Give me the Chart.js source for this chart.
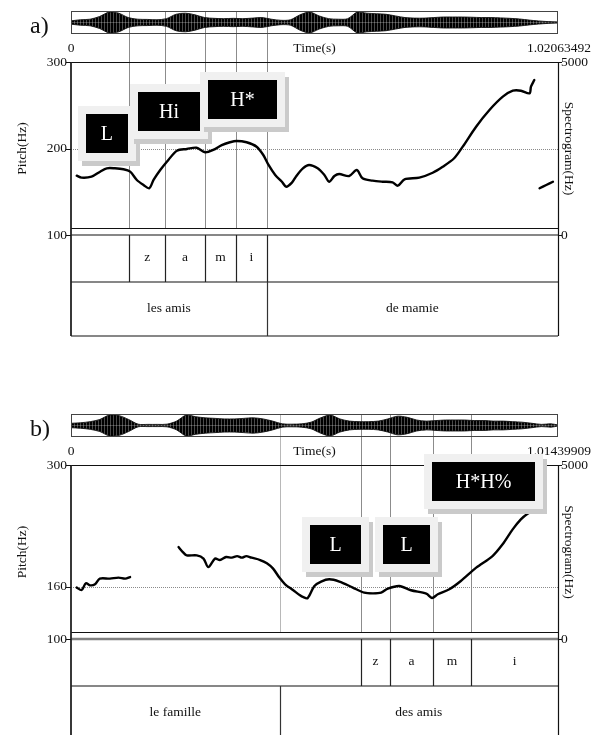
<!DOCTYPE html>
<html>
<head>
<meta charset="utf-8">
<script src="https://cdn.jsdelivr.net/npm/chart.js@4.4.1/dist/chart.umd.min.js"></script>
<style>
  html, body { margin: 0; padding: 0; background: #fff; }
  #page { position: relative; width: 596px; height: 735px; overflow: hidden; }
  canvas { position: absolute; left: 0; }
</style>
</head>
<body>
<div id="page">
  <canvas id="mainA" width="596" height="365" style="top:0"></canvas>
  <canvas id="waveA" width="596" height="23" style="top:11px"></canvas>
  <canvas id="mainB" width="596" height="370" style="top:365px"></canvas>
  <canvas id="waveB" width="596" height="23" style="top:414px"></canvas>
</div>
<script>
/* Two Praat-style panels: waveform, pitch track, tone labels, phone/word tiers */
const FONT = "'Liberation Serif', 'DejaVu Serif', serif";

// ---- panel a ----
const DUR_A = 1.02063492;
const PITCH_A_T  = [0.012, 0.022, 0.043, 0.061, 0.075, 0.092, 0.110, 0.124, 0.138, 0.152, 0.164, 0.173, 0.187, 0.204, 0.222, 0.243,
                    0.263, 0.281, 0.298, 0.316, 0.333, 0.347, 0.368, 0.389, 0.403, 0.414, 0.428, 0.442, 0.451, 0.463, 0.472, 0.486,
                    0.499, 0.517, 0.531, 0.541, 0.552, 0.562, 0.583, 0.599, 0.611, 0.632, 0.653, 0.674, 0.685, 0.699, 0.730, 0.758,
                    0.779, 0.803, 0.821, 0.849, 0.877, 0.905, 0.926, 0.943, 0.961, 0.964, 0.971, 0.976, 0.982, 0.996, 1.010];
const PITCH_A_HZ = [168.6, 166.3, 167.4, 173.2, 177.1, 177.1, 176.0, 173.2, 163.6, 157.8, 154.0, 163.6, 175.1, 186.7, 197.5, 199.4,
                    200.9, 195.6, 198.3, 204.0, 207.2, 208.7, 207.2, 202.1, 192.5, 181.0, 169.4, 161.6, 155.8, 160.5, 168.0, 177.1,
                    181.0, 177.1, 169.4, 161.6, 168.2, 170.5, 168.2, 175.1, 165.5, 162.8, 161.6, 160.9, 157.0, 164.4, 166.3, 172.0,
                    178.9, 188.7, 202.1, 225.2, 244.5, 259.9, 266.8, 266.8, 263.8, 271.5, 279.2, null, 154.0, 157.8, 161.6];
const WAVE_A_T   = [0, 0.02, 0.04, 0.06, 0.08, 0.10, 0.12, 0.14, 0.16, 0.18, 0.20, 0.22, 0.24, 0.26, 0.28, 0.30, 0.32, 0.34,
                    0.36, 0.38, 0.40, 0.42, 0.44, 0.46, 0.48, 0.50, 0.52, 0.54, 0.56, 0.58, 0.60, 0.62, 0.64, 0.66, 0.68, 0.70,
                    0.72, 0.74, 0.76, 0.78, 0.80, 0.82, 0.84, 0.86, 0.88, 0.90, 0.92, 0.94, 0.96, 0.98, 1.00, 1.02];
const WAVE_A_AMP = [0.15, 0.25, 0.30, 0.55, 0.95, 0.85, 0.45, 0.30, 0.28, 0.25, 0.35, 0.75, 0.85, 0.70, 0.45, 0.38, 0.35, 0.38,
                    0.35, 0.40, 0.45, 0.30, 0.20, 0.25, 0.70, 0.95, 0.60, 0.35, 0.30, 0.35, 0.95, 0.85, 0.80, 0.75, 0.60, 0.45,
                    0.40, 0.40, 0.45, 0.50, 0.50, 0.50, 0.48, 0.45, 0.45, 0.42, 0.38, 0.32, 0.22, 0.14, 0.08, 0.05];
const PHONE_A_EDGES  = [0, 0.1222, 0.197, 0.2808, 0.3458, 0.4101, DUR_A];
const PHONE_A_LABELS = ['', 'z', 'a', 'm', 'i', ''];
const WORD_A_EDGES   = [0, 0.4101, DUR_A];
const WORD_A_LABELS  = ['les amis', 'de mamie'];
const TONE_A_TEXT = ['L', 'Hi', 'H*'];
const TONE_A_T    = [0.0754, 0.2054, 0.3594];
const TONE_A_HZ   = [216.8, 242.2, 257.2];
const PITCH_A_TICKS = [100, 200, 300];

// ---- panel b ----
const DUR_B = 1.01439909;
const PITCH_B_T  = [0.012, 0.022, 0.031, 0.040, 0.050, 0.060, 0.081, 0.099, 0.113, 0.123, 0.170, 0.224, 0.233, 0.241, 0.262,
                    0.276, 0.286, 0.300, 0.310, 0.323, 0.335, 0.346, 0.356, 0.365, 0.376, 0.394, 0.408, 0.421, 0.434, 0.446,
                    0.463, 0.477, 0.483, 0.493, 0.507, 0.521, 0.538, 0.559, 0.587, 0.611, 0.628, 0.646, 0.660, 0.684, 0.708,
                    0.740, 0.752, 0.764, 0.788, 0.812, 0.844, 0.878, 0.899, 0.920, 0.937, 0.951, 0.965];
const PITCH_B_HZ = [159.1, 156.3, 164.0, 161.7, 162.9, 169.4, 169.4, 170.6, 169.4, 171.2, null, 205.7, 199.9, 196.1, 196.1,
                    192.4, 182.7, 192.4, 190.8, 194.2, 193.5, 195.3, 193.5, 195.3, 193.5, 190.8, 187.0, 180.9, 170.6, 162.9,
                    156.0, 150.2, 148.3, 147.1, 160.9, 166.0, 168.6, 166.0, 159.1, 153.3, 152.5, 153.3, 157.9, 160.9, 156.0,
                    152.2, 147.1, 151.4, 157.1, 166.7, 182.0, 195.3, 208.8, 226.0, 237.5, 244.0, 248.1];
const WAVE_B_T   = [0, 0.02, 0.04, 0.06, 0.08, 0.10, 0.12, 0.14, 0.16, 0.18, 0.20, 0.22, 0.24, 0.26, 0.28, 0.30, 0.32, 0.34,
                    0.36, 0.38, 0.40, 0.42, 0.44, 0.46, 0.48, 0.50, 0.52, 0.54, 0.56, 0.58, 0.60, 0.62, 0.64, 0.66, 0.68, 0.70,
                    0.72, 0.74, 0.76, 0.78, 0.80, 0.82, 0.84, 0.86, 0.88, 0.90, 0.92, 0.94, 0.96, 0.98, 1.00, 1.014];
const WAVE_B_AMP = [0.20, 0.25, 0.35, 0.55, 0.95, 0.90, 0.55, 0.12, 0.10, 0.10, 0.12, 0.40, 0.95, 0.80, 0.70, 0.65, 0.60, 0.60,
                    0.65, 0.70, 0.60, 0.40, 0.15, 0.12, 0.15, 0.30, 0.70, 0.95, 0.60, 0.40, 0.35, 0.35, 0.40, 0.60, 0.85, 0.75,
                    0.50, 0.40, 0.45, 0.50, 0.50, 0.50, 0.45, 0.45, 0.40, 0.40, 0.35, 0.30, 0.20, 0.10, 0.15, 0.05];
const PHONE_B_EDGES  = [0, 0.6041, 0.6645, 0.7540, 0.8332, DUR_B];
const PHONE_B_LABELS = ['', 'z', 'a', 'm', 'i'];
const WORD_B_EDGES   = [0, 0.4343, DUR_B];
const WORD_B_LABELS  = ['le famille', 'des amis'];
const TONE_B_TEXT = ['L', 'L', 'H*H%'];
const TONE_B_T    = [0.5510, 0.6989, 0.8593];
const TONE_B_HZ   = [208.8, 208.8, 281.1];
const PITCH_B_TICKS = [100, 160, 300];

const SPEC_TICKS = [0, 5000];

/* ---------- drawing helpers ---------- */
const crisp = v => Math.round(v) + 0.5;
function seg(ctx, x1, y1, x2, y2, color, w) {
  ctx.strokeStyle = color; ctx.lineWidth = w;
  ctx.beginPath(); ctx.moveTo(x1, y1); ctx.lineTo(x2, y2); ctx.stroke();
}

function praatPlugin(cfg) {
  return {
    id: 'praat',
    beforeDatasetsDraw(chart) {
      const { ctx, chartArea: a, scales: { x, y, spec } } = chart;
      const B = a.bottom, phoneBot = B + 47, wordBot = Math.min(B + 101, chart.height);
      const waveTop = a.top - 51;
      ctx.save();

      // panel letter + time row
      ctx.fillStyle = '#111';
      ctx.font = '24px ' + FONT; ctx.textAlign = 'left'; ctx.textBaseline = 'alphabetic';
      ctx.fillText(cfg.name, 30, a.top - 29);
      ctx.font = '13.5px ' + FONT; ctx.textBaseline = 'middle'; ctx.textAlign = 'center';
      ctx.fillText('0', x.getPixelForValue(0), a.top - 14);
      ctx.fillText('Time(s)', (a.left + a.right) / 2, a.top - 14);
      ctx.textAlign = 'right';
      ctx.fillText(cfg.durText, a.right + 33, a.top - 14);

      // boundaries across waveform + pitch area
      const inner = e => e.slice(1, -1);
      const phoneB = inner(cfg.phoneEdges), wordB = inner(cfg.wordEdges);
      phoneB.forEach(t => seg(ctx, crisp(x.getPixelForValue(t)), waveTop, crisp(x.getPixelForValue(t)), B - 6, '#8c8c8c', 1));
      wordB.filter(t => !phoneB.includes(t))
        .forEach(t => seg(ctx, crisp(x.getPixelForValue(t)), waveTop, crisp(x.getPixelForValue(t)), B - 6, '#b8b8b8', 1));

      // dotted reference line
      ctx.setLineDash([1, 1]);
      const gy = crisp(y.getPixelForValue(cfg.grid));
      seg(ctx, a.left, gy, a.right, gy, '#8a8a8a', 1);
      ctx.setLineDash([]);

      // frame
      seg(ctx, a.left, crisp(y.getPixelForValue(300)), a.right, crisp(y.getPixelForValue(300)), '#111', 1.2);
      seg(ctx, a.left, B - 6.5, a.right, B - 6.5, '#111', 1.2);
      seg(ctx, a.left, B, a.right, B, cfg.baseColor, cfg.baseWidth);
      seg(ctx, a.left, phoneBot, a.right, phoneBot, '#111', 1.2);
      if (B + 101 <= chart.height) seg(ctx, a.left, B + 101, a.right, B + 101, '#111', 1.2);
      seg(ctx, a.left, a.top, a.left, wordBot, '#222', 1.8);
      seg(ctx, crisp(a.right), a.top, crisp(a.right), wordBot, '#111', 1.2);

      // left pitch ticks, right spectrogram ticks
      ctx.fillStyle = '#111'; ctx.font = '13.5px ' + FONT; ctx.textBaseline = 'middle';
      ctx.textAlign = 'right';
      cfg.pitchTicks.forEach(v => {
        const yy = y.getPixelForValue(v);
        seg(ctx, a.left - 5, crisp(yy), a.left, crisp(yy), '#111', 1);
        ctx.fillText(String(v), a.left - 4, yy);
      });
      ctx.textAlign = 'left';
      SPEC_TICKS.forEach(v => {
        const yy = spec.getPixelForValue(v);
        seg(ctx, a.right, crisp(yy), a.right + 4, crisp(yy), '#111', 1);
        ctx.fillText(String(v), a.right + 3, yy);
      });

      // axis titles
      const mid = (a.top + a.bottom) / 2;
      ctx.textAlign = 'center';
      ctx.save(); ctx.translate(22, mid); ctx.rotate(-Math.PI / 2); ctx.fillText('Pitch(Hz)', 0, 0); ctx.restore();
      ctx.save(); ctx.translate(569, mid); ctx.rotate(Math.PI / 2); ctx.fillText('Spectrogram(Hz)', 0, 0); ctx.restore();

      // tiers
      phoneB.forEach(t => seg(ctx, crisp(x.getPixelForValue(t)), B, crisp(x.getPixelForValue(t)), phoneBot, '#222', 1.2));
      wordB.forEach(t => seg(ctx, crisp(x.getPixelForValue(t)), phoneBot, crisp(x.getPixelForValue(t)), wordBot, '#333', 1.2));
      ctx.fillStyle = '#111';
      cfg.phoneLabels.forEach((s, i) => {
        if (!s) return;
        ctx.fillText(s, x.getPixelForValue((cfg.phoneEdges[i] + cfg.phoneEdges[i + 1]) / 2), B + 22);
      });
      cfg.wordLabels.forEach((s, i) => {
        ctx.fillText(s, x.getPixelForValue((cfg.wordEdges[i] + cfg.wordEdges[i + 1]) / 2), B + 73);
      });
      ctx.restore();
    },
    afterDatasetsDraw(chart) {
      const { ctx, scales: { x, y } } = chart;
      ctx.save();
      cfg.tones.forEach((txt, i) => {
        const cx = x.getPixelForValue(cfg.toneT[i]), cy = y.getPixelForValue(cfg.toneHz[i]);
        const w = cfg.toneW[i], h = 39, m = 8;
        const l = Math.round(cx - w / 2), t = Math.round(cy - h / 2);
        ctx.fillStyle = '#cacaca'; ctx.fillRect(l - m + 4, t - m + 5, w + 2 * m, h + 2 * m);
        ctx.fillStyle = '#f0f0f0'; ctx.fillRect(l - m, t - m, w + 2 * m, h + 2 * m);
        ctx.fillStyle = '#000'; ctx.fillRect(l, t, w, h);
        ctx.fillStyle = '#fff'; ctx.font = '20px ' + FONT;
        ctx.textAlign = 'center'; ctx.textBaseline = 'middle';
        ctx.fillText(txt, cx, t + h / 2 + 1);
      });
      ctx.restore();
    }
  };
}

function panelChart(id, cfg) {
  return new Chart(document.getElementById(id), {
    type: 'line',
    data: { datasets: [{
      data: cfg.t.map((t, i) => ({ x: t, y: cfg.hz[i] })),
      borderColor: '#000', borderWidth: 2.4, pointRadius: 0, tension: 0.3,
      borderCapStyle: 'round', borderJoinStyle: 'round', spanGaps: false, fill: false
    }]},
    options: {
      responsive: false, animation: false, events: [],
      layout: { padding: { left: 71, right: 38, top: cfg.top, bottom: cfg.bottom } },
      scales: {
        x: { type: 'linear', min: 0, max: cfg.dur, display: false },
        y: { min: 100, max: 300, display: false },
        spec: { position: 'right', min: 0, max: 5000, display: false }
      },
      plugins: { legend: { display: false }, tooltip: { enabled: false } }
    },
    plugins: [praatPlugin(cfg)]
  });
}

// vertical striping so the envelope reads like a dense waveform
function stripes() {
  const c = document.createElement('canvas'); c.width = 3; c.height = 1;
  const g = c.getContext('2d');
  g.fillStyle = '#000'; g.fillRect(0, 0, 2, 1);
  g.fillStyle = '#4a4a4a'; g.fillRect(2, 0, 1, 1);
  return g.createPattern(c, 'repeat');
}

function waveChart(id, t, amp, dur) {
  const pat = stripes();
  const base = { borderColor: '#111', borderWidth: 0.9, backgroundColor: pat, pointRadius: 0, tension: 0.3, fill: 'origin' };
  return new Chart(document.getElementById(id), {
    type: 'line',
    data: { datasets: [
      Object.assign({ data: t.map((v, i) => ({ x: v, y: amp[i] })) }, base),
      Object.assign({ data: t.map((v, i) => ({ x: v, y: -amp[i] })) }, base)
    ]},
    options: {
      responsive: false, animation: false, events: [],
      layout: { padding: { left: 71, right: 38, top: 0, bottom: 0 } },
      scales: {
        x: { type: 'linear', min: 0, max: dur, display: false },
        y: { min: -1.05, max: 1.05, display: false }
      },
      plugins: { legend: { display: false }, tooltip: { enabled: false } }
    },
    plugins: [{
      id: 'box',
      afterDraw(chart) {
        const { ctx, chartArea: a } = chart;
        ctx.save(); ctx.strokeStyle = '#444'; ctx.lineWidth = 1;
        ctx.strokeRect(a.left + 0.5, 0.5, a.right - a.left - 1, chart.height - 1);
        ctx.restore();
      }
    }]
  });
}

panelChart('mainA', {
  name: 'a)', dur: DUR_A, durText: '1.02063492', top: 62, bottom: 130,
  t: PITCH_A_T, hz: PITCH_A_HZ, grid: 200, pitchTicks: PITCH_A_TICKS,
  phoneEdges: PHONE_A_EDGES, phoneLabels: PHONE_A_LABELS, wordEdges: WORD_A_EDGES, wordLabels: WORD_A_LABELS,
  tones: TONE_A_TEXT, toneT: TONE_A_T, toneHz: TONE_A_HZ, toneW: [42, 62, 69],
  baseColor: '#111', baseWidth: 1.2
});
panelChart('mainB', {
  name: 'b)', dur: DUR_B, durText: '1.01439909', top: 100, bottom: 96,
  t: PITCH_B_T, hz: PITCH_B_HZ, grid: 160, pitchTicks: PITCH_B_TICKS,
  phoneEdges: PHONE_B_EDGES, phoneLabels: PHONE_B_LABELS, wordEdges: WORD_B_EDGES, wordLabels: WORD_B_LABELS,
  tones: TONE_B_TEXT, toneT: TONE_B_T, toneHz: TONE_B_HZ, toneW: [51, 47, 103],
  baseColor: '#808080', baseWidth: 2.5
});
waveChart('waveA', WAVE_A_T, WAVE_A_AMP, DUR_A);
waveChart('waveB', WAVE_B_T, WAVE_B_AMP, DUR_B);
</script>
</body>
</html>
